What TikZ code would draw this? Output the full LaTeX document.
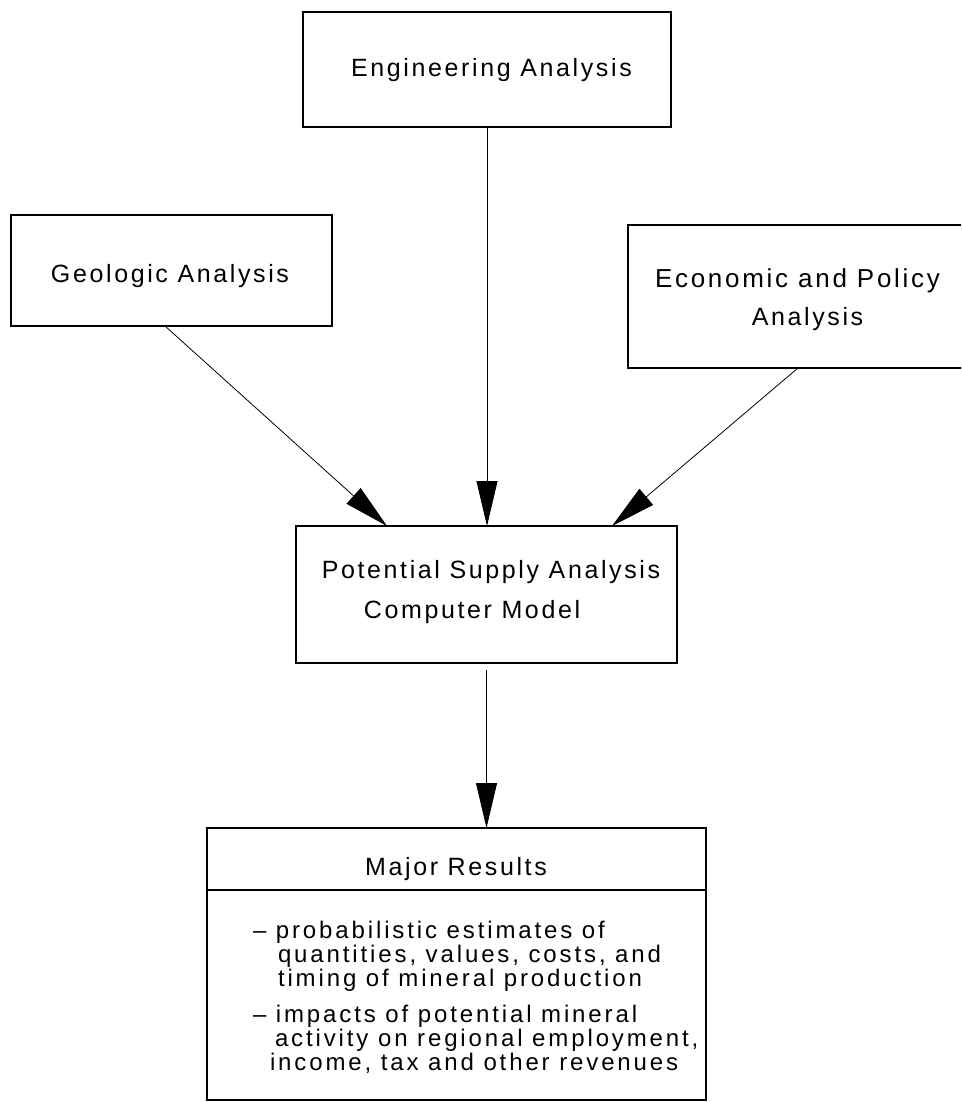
\documentclass[tikz,border=0pt]{standalone}
\usepackage{fontspec}
\setmainfont{Liberation Sans}
\newfontfamily\tfont{Liberation Sans}[LetterSpace=10.5]
\newfontfamily\bfont{Liberation Sans}[LetterSpace=12]
\usetikzlibrary{arrows.meta}
\begin{document}
\begin{tikzpicture}[x=1pt,y=-1pt,
  boxst/.style={draw, line width=1.4pt, inner sep=0pt, outer sep=0pt},
  divline/.style={draw, line width=1.4pt},
  lbl/.style={inner sep=0pt, outer sep=0pt, anchor=base, font=\tfont\fontsize{25}{30}\selectfont},
  blt/.style={inner sep=0pt, outer sep=0pt, anchor=base west, font=\bfont\fontsize{24}{28}\selectfont},
  conn/.style={line width=0.8pt, -{Triangle[length=45pt,width=21pt]}}]
\useasboundingbox (0,0) rectangle (961,1102);
\clip (0,0) rectangle (961,1102);
% boxes
\node[boxst, minimum width=368pt, minimum height=115pt] (eng) at (487,69.5) {};
\node[lbl] (engt) at (491.5,77) {Engineering Analysis};
\node[boxst, minimum width=321pt, minimum height=111pt] (geo) at (171.5,270.5) {};
\node[lbl] (geot) at (170,282) {Geologic Analysis};
\node[boxst, minimum width=340pt, minimum height=143pt] (eco) at (798,296.5) {};
\node[lbl, font=\tfont\fontsize{26}{30}\selectfont] (ecot1) at (797.5,287) {Economic and Policy};
\node[lbl] (ecot2) at (807.5,325) {Analysis};
\node[boxst, minimum width=381pt, minimum height=137pt] (pot) at (486.5,594.5) {};
\node[lbl] (pott1) at (491,578) {Potential Supply Analysis};
\node[lbl] (pott2) at (472,618) {Computer Model};
\node[boxst, minimum width=499pt, minimum height=272pt] (maj) at (456.5,964) {};
\draw[divline] ([yshift=-62pt]maj.north west) -- ([yshift=-62pt]maj.north east);
\node[lbl] (majt) at (456,875) {Major Results};
\node[blt] (b1) at (253,938) {–\ probabilistic estimates of};
\node[blt] (b2) at (278,962) {quantities, values, costs, and};
\node[blt] (b3) at (278,986) {timing of mineral production};
\node[blt] (b4) at (253,1022) {–\ impacts of potential mineral};
\node[blt] (b5) at (275,1046) {activity on regional employment,};
\node[blt] (b6) at (270,1070) {income, tax and other revenues};
% connectors
\draw[conn] ([xshift=-6.5pt]geo.south) -- ([xshift=-99.5pt]pot.north);
\draw[conn] (eng.south) -- (eng.south |- pot.north);
\draw[conn] (eco.south) -- ([xshift=125.5pt]pot.north);
\draw[conn] ([yshift=-7pt]pot.south) -- (pot.south |- maj.north);
\end{tikzpicture}
\end{document}
